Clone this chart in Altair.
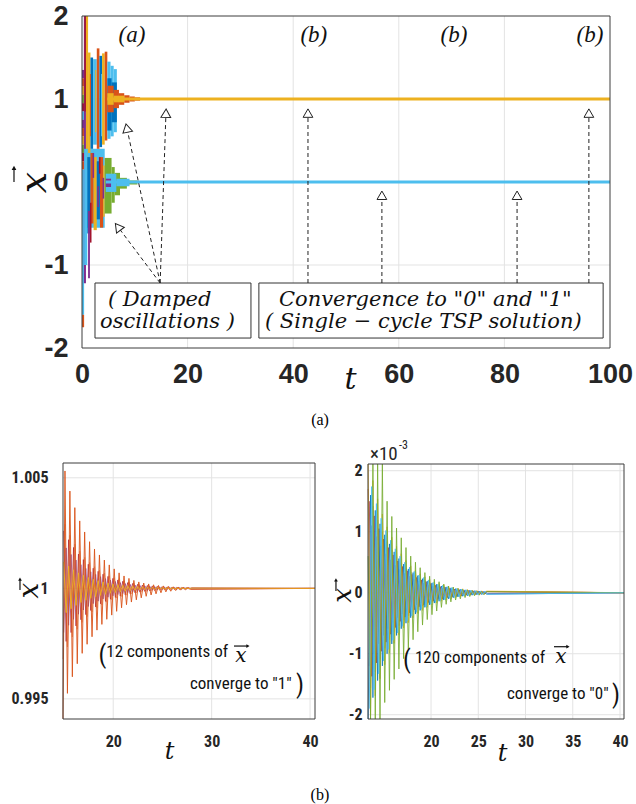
import math
import altair as alt
import pandas as pd

# ---------------- colours (MATLAB default order) ----------------
BLUE, ORANGE, YELLOW, PURPLE = "#0072BD", "#D95319", "#EDB120", "#7E2F8E"
GREEN, LBLUE, DRED, LORANGE = "#77AC30", "#4DBEEE", "#A2142F", "#E98A5F"

# ---------------- panel (a): ticks ----------------
top_xticks = [0, 20, 40, 60, 80, 100]
top_yticks = [-2, -1, 0, 1, 2]
top_grid_t = [20, 40, 60, 80]
top_grid_y = [-1, 0, 1]

# transient region: (t0, t1, low, high, colour)
band_early = [
    (0.0, 0.4, 1.25, 1.35, PURPLE), (0.0, 0.4, 1.15, 1.25, ORANGE),
    (0.0, 0.4, 1.05, 1.15, YELLOW), (0.0, 0.4, 0.95, 1.05, GREEN),
    (0.0, 0.4, 0.85, 0.95, DRED), (0.0, 0.4, 0.75, 0.85, LBLUE),
    (0.0, 0.4, 0.65, 0.75, PURPLE), (0.0, 0.4, 0.55, 0.65, ORANGE),
    (0.0, 0.4, 0.45, 0.55, YELLOW), (0.0, 0.4, 0.35, 0.45, GREEN),
    (0.0, 0.4, 0.25, 0.35, DRED), (0.0, 0.4, 0.15, 0.25, ORANGE),
    (0.0, 0.4, -1.60, 0.15, LBLUE), (0.0, 0.4, -1.75, -1.60, ORANGE),
    (0.35, 0.75, -1.22, 2.0, PURPLE), (0.45, 0.75, 0.85, 2.0, DRED),
    (0.75, 1.15, 0.15, 2.0, YELLOW),
]
band_lower = [
    (0.4, 1.0, -1.0, 0.40, LBLUE), (1.0, 4.3, -0.55, 0.40, LBLUE),
    (1.0, 1.6, -0.62, 0.30, BLUE), (1.6, 2.2, -0.50, 0.35, ORANGE),
    (2.2, 2.8, -0.58, 0.30, YELLOW), (2.8, 3.4, -0.45, 0.25, BLUE),
    (3.4, 4.0, -0.55, 0.30, ORANGE), (4.0, 4.3, -0.42, 0.20, YELLOW),
    (1.15, 1.5, -1.16, -0.35, PURPLE), (1.5, 1.8, -0.73, -0.25, DRED),
    (2.0, 2.3, 0.05, 0.35, PURPLE), (2.9, 3.2, -0.30, -0.05, PURPLE),
    (3.2, 3.5, 0.10, 0.30, DRED), (3.9, 4.2, -0.20, 0.05, PURPLE),
    (4.3, 5.6, -0.38, 0.29, GREEN), (5.6, 6.2, -0.25, 0.18, GREEN),
    (6.2, 7.2, -0.16, 0.11, GREEN), (7.2, 8.5, -0.08, 0.05, GREEN),
    (8.5, 10.5, -0.03, 0.018, GREEN), (10.5, 12.5, -0.012, 0.008, GREEN),
    (4.5, 6.5, -0.12, 0.10, LBLUE), (6.5, 9.0, -0.05, 0.04, LBLUE),
    (4.5, 5.5, -0.06, 0.04, PURPLE),
]
band_upper = [
    (1.15, 1.6, 0.35, 1.56, YELLOW), (1.6, 2.1, 0.40, 1.50, BLUE),
    (2.1, 2.8, 0.45, 1.48, LBLUE), (2.8, 3.3, 0.40, 1.61, ORANGE),
    (3.3, 3.8, 0.42, 1.52, BLUE), (3.8, 4.3, 0.45, 1.55, YELLOW),
    (4.3, 4.8, 0.50, 1.57, ORANGE), (4.8, 5.4, 0.52, 1.45, LBLUE),
    (5.4, 6.0, 0.55, 1.40, LBLUE), (6.0, 6.6, 0.60, 1.36, LBLUE),
    (4.8, 5.6, 0.62, 1.25, BLUE), (5.6, 6.6, 0.72, 1.20, BLUE),
    (4.8, 6.0, 0.84, 1.16, ORANGE), (6.0, 7.0, 0.89, 1.11, ORANGE),
    (7.0, 8.0, 0.93, 1.07, ORANGE), (8.0, 9.0, 0.955, 1.045, ORANGE),
    (9.0, 10.0, 0.97, 1.03, ORANGE), (10.0, 11.0, 0.98, 1.02, ORANGE),
    (11.0, 12.0, 0.988, 1.012, ORANGE), (12.0, 13.5, 0.994, 1.006, ORANGE),
    (4.8, 6.0, 0.93, 1.07, YELLOW), (6.0, 8.0, 0.96, 1.04, YELLOW),
    (1.5, 1.7, 0.55, 1.30, ORANGE), (2.5, 2.7, 0.60, 1.35, YELLOW),
    (3.6, 3.8, 0.55, 1.30, LBLUE),
]
# settled trajectories
settle_t0 = [4.5, 4.8]
settle_t1 = [100, 100]
settle_y = [0.0, 1.0]
settle_c = [LBLUE, YELLOW]

# annotation boxes (t0, t1, y0, y1)
box_t0 = [2.46, 33.5]
box_t1 = [32.0, 98.7]
box_y0 = [-1.88, -1.88]
box_y1 = [-1.217, -1.217]
box_text_t = [4.92, 3.41, 37.3, 34.66]
box_text_y = [-1.494, -1.759, -1.494, -1.759]
box_text = ["( Damped", "oscillations )", 'Convergence to "0" and "1"',
            "( Single \u2212 cycle TSP solution)"]

# dashed arrows: source on box edge, tip
arrow_src_t = [14.8, 14.8, 14.8, 42.8, 56.8, 82.4, 96.0]
arrow_src_y = [-1.217] * 7
arrow_tip_t = [8.5, 15.9, 6.8, 42.8, 56.8, 82.4, 96.0]
arrow_tip_y = [0.65, 0.83, -0.54, 0.83, -0.16, -0.16, 0.83]

part_t = [9.47, 43.9, 70.45, 96.2]
part_y = [1.687] * 4
part_text = ["(a)", "(b)", "(b)", "(b)"]

# ---------------- panel (b) left: 12 components -> 1 (deviation x 1e-3) -------
bl_xticks = [20, 30, 40]
bl_yticks = [0.995, 1.0, 1.005]
bl_grid_t = [20, 30, 40]
bl_t = [14.9, 15.1, 15.35, 15.6, 15.85, 16.1, 16.35, 16.6, 16.85, 17.1, 17.35, 17.6,
        17.85, 18.1, 18.35, 18.6, 18.85, 19.1, 19.35, 19.6, 19.85, 20.1, 20.35, 20.6,
        20.85, 21.1, 21.35, 21.6, 21.85, 22.1, 22.35, 22.6, 22.85, 23.1, 23.35, 23.6,
        23.85, 24.1, 24.35, 24.6, 24.85, 25.1, 25.35, 25.6, 25.85, 26.1, 26.35, 26.6,
        26.85, 27.1, 27.35, 27.6, 27.85]
bl_t2 = [14.97, 15.22, 15.47, 15.72, 15.97, 16.22, 16.47, 16.72, 16.97, 17.22, 17.47,
         17.72, 17.97, 18.22, 18.47, 18.72, 18.97, 19.22, 19.47, 19.72, 19.97, 20.22,
         20.47, 20.72, 20.97, 21.22, 21.47, 21.72, 21.97, 22.22, 22.47, 22.72, 22.97,
         23.22, 23.47, 23.72, 23.97, 24.22, 24.47, 24.72, 24.97, 25.22, 25.47, 25.72,
         25.97, 26.22, 26.47, 26.72, 26.97, 27.22, 27.47, 27.72, 27.97]
bl_orange = [-5.9, 5.31, -4.75, 4.40, -4.0, 3.65, -3.41, 3.05, -2.94, 2.55, -2.53, 2.11,
             -2.19, 1.78, -1.89, 1.51, -1.63, 1.28, -1.40, 1.06, -1.21, 0.88, -1.04, 0.70,
             -0.88, 0.56, -0.74, 0.45, -0.62, 0.36, -0.52, 0.29, -0.43, 0.24, -0.36, 0.20,
             -0.30, 0.16, -0.25, 0.13, -0.20, 0.11, -0.16, 0.09, -0.13, 0.07, -0.10, 0.06,
             -0.08, 0.05, -0.06, 0.04, -0.045]
bl_lorange = [-3.2, 2.9, -2.65, 2.4, -2.2, 2.0, -1.85, 1.68, -1.54, 1.4, -1.28, 1.17,
              -1.07, 0.98, -0.9, 0.82, -0.75, 0.69, -0.63, 0.57, -0.52, 0.48, -0.44, 0.4,
              -0.37, 0.34, -0.31, 0.28, -0.26, 0.23, -0.21, 0.2, -0.18, 0.16, -0.15, 0.14,
              -0.13, 0.12, -0.11, 0.1, -0.09, 0.08, -0.075, 0.068, -0.062, 0.057, -0.052,
              0.048, -0.044, 0.04, -0.037, 0.034, -0.031]
bl_dred = [2.6, -2.4, 2.2, -2.0, 1.85, -1.7, 1.55, -1.42, 1.3, -1.19, 1.09, -1.0, 0.91,
           -0.84, 0.77, -0.7, 0.64, -0.59, 0.54, -0.49, 0.45, -0.41, 0.38, -0.35, 0.32,
           -0.29, 0.26, -0.24, 0.22, -0.2, 0.18, -0.17, 0.15, -0.14, 0.13, -0.12, 0.11,
           -0.1, 0.09, -0.08, 0.075, -0.07, 0.063, -0.058, 0.053, -0.049, 0.045, -0.041,
           0.037, -0.034, 0.031, -0.029, 0.026]
bl_purple = [-2.0, 1.83, -1.67, 1.53, -1.4, 1.28, -1.17, 1.07, -0.98, 0.9, -0.82, 0.75,
             -0.69, 0.63, -0.58, 0.53, -0.48, 0.44, -0.4, 0.37, -0.34, 0.31, -0.28, 0.26,
             -0.24, 0.22, -0.2, 0.18, -0.17, 0.15, -0.14, 0.13, -0.12, 0.11, -0.1, 0.09,
             -0.082, 0.075, -0.069, 0.063, -0.058, 0.053, -0.048, 0.044, -0.04, 0.037,
             -0.034, 0.031, -0.028, 0.026, -0.024, 0.022, -0.02]
bl_yellow = [1.2, -1.1, 1.0, -0.92, 0.84, -0.77, 0.7, -0.64, 0.59, -0.54, 0.49, -0.45,
             0.41, -0.38, 0.35, -0.32, 0.29, -0.27, 0.24, -0.22, 0.2, -0.19, 0.17, -0.16,
             0.14, -0.13, 0.12, -0.11, 0.1, -0.09, 0.084, -0.077, 0.07, -0.064, 0.059,
             -0.054, 0.049, -0.045, 0.041, -0.037, 0.034, -0.031, 0.029, -0.026, 0.024,
             -0.022, 0.02, -0.018, 0.017, -0.015, 0.014, -0.013, 0.012]
bl_end_t = 40.5

# ---------------- panel (b) right: 120 components -> 0 (x 1e-3) ----------------
br_xticks = [20, 25, 30, 35, 40]
br_yticks = [-2, -1, 0, 1, 2]
br_grid_t = [20, 25, 30, 35, 40]
br_t = [13.35, 13.6, 13.85, 14.1, 14.35, 14.6, 14.85, 15.1, 15.35, 15.6, 15.85, 16.1,
        16.35, 16.6, 16.85, 17.1, 17.35, 17.6, 17.85, 18.1, 18.35, 18.6, 18.85, 19.1,
        19.35, 19.6, 19.85, 20.1, 20.35, 20.6, 20.85, 21.1, 21.35, 21.6, 21.85, 22.1,
        22.35, 22.6, 22.85, 23.1, 23.35, 23.6, 23.85, 24.1, 24.35, 24.6, 24.85, 25.1,
        25.35, 25.6, 25.85]
br_t2 = [13.47, 13.72, 13.97, 14.22, 14.47, 14.72, 14.97, 15.22, 15.47, 15.72, 15.97,
         16.22, 16.47, 16.72, 16.97, 17.22, 17.47, 17.72, 17.97, 18.22, 18.47, 18.72,
         18.97, 19.22, 19.47, 19.72, 19.97, 20.22, 20.47, 20.72, 20.97, 21.22, 21.47,
         21.72, 21.97, 22.22, 22.47, 22.72, 22.97, 23.22, 23.47, 23.72, 23.97, 24.22,
         24.47, 24.72, 24.97, 25.22, 25.47, 25.72, 25.97]
br_green = [0.6, -2.07, 2.11, -2.07, 2.11, -2.07, 2.11, -1.8, 1.5, -1.6, 1.25, -1.42,
            1.06, -1.25, 0.9, -1.08, 0.74, -0.92, 0.6, -0.77, 0.5, -0.64, 0.41, -0.53,
            0.33, -0.44, 0.27, -0.36, 0.22, -0.3, 0.18, -0.24, 0.14, -0.19, 0.11, -0.15,
            0.09, -0.12, 0.07, -0.1, 0.055, -0.08, 0.045, -0.063, 0.035, -0.05, 0.028,
            -0.04, 0.022, -0.032, 0.017]
br_yellow = [2.11, -2.01, 1.84, -1.69, 1.54, -1.41, 1.29, -1.18, 1.08, -0.99, 0.91, -0.83,
             0.76, -0.69, 0.64, -0.58, 0.53, -0.49, 0.44, -0.41, 0.37, -0.34, 0.31, -0.29,
             0.26, -0.24, 0.22, -0.2, 0.18, -0.17, 0.15, -0.14, 0.13, -0.12, 0.11, -0.1,
             0.09, -0.08, 0.075, -0.068, 0.064, -0.057, 0.053, -0.048, 0.044, -0.04,
             0.037, -0.033, 0.031, -0.029, 0.026]
br_lblue = [-1.9, 1.74, -1.59, 1.46, -1.33, 1.22, -1.12, 1.02, -0.93, 0.86, -0.78, 0.72,
            -0.66, 0.6, -0.55, 0.5, -0.46, 0.42, -0.38, 0.35, -0.32, 0.29, -0.27, 0.25,
            -0.23, 0.21, -0.19, 0.17, -0.16, 0.14, -0.13, 0.12, -0.11, 0.1, -0.093, 0.086,
            -0.078, 0.07, -0.065, 0.059, -0.055, 0.049, -0.046, 0.042, -0.038, 0.034,
            -0.032, 0.029, -0.027, 0.025, -0.023]
br_blue = [-2.07, 1.6, -1.72, 1.35, -1.44, 1.13, -1.2, 0.95, -1.0, 0.8, -0.84, 0.67, -0.7,
           0.56, -0.59, 0.47, -0.5, 0.39, -0.41, 0.33, -0.35, 0.28, -0.29, 0.23, -0.24,
           0.19, -0.2, 0.16, -0.17, 0.14, -0.14, 0.11, -0.12, 0.095, -0.1, 0.08, -0.083,
           0.067, -0.07, 0.056, -0.058, 0.047, -0.049, 0.04, -0.041, 0.033, -0.034, 0.028,
           -0.029, 0.023, -0.024]
br_dred = [1.5, -1.37, 1.26, -1.15, 1.05, -0.96, 0.88, -0.81, 0.74, -0.68, 0.62, -0.57,
           0.52, -0.47, 0.43, -0.4, 0.36, -0.33, 0.3, -0.28, 0.25, -0.23, 0.21, -0.2, 0.18,
           -0.16, 0.15, -0.14, 0.12, -0.11, 0.1, -0.1, 0.09, -0.08, 0.07, -0.07, 0.06,
           -0.06, 0.05, -0.05, 0.04, -0.04, 0.036, -0.033, 0.03, -0.027, 0.025, -0.023,
           0.021, -0.019, 0.018]
br_purple = [-1.2, 1.1, -1.0, 0.92, -0.84, 0.77, -0.7, 0.64, -0.59, 0.54, -0.49, 0.45,
             -0.41, 0.38, -0.35, 0.32, -0.29, 0.27, -0.24, 0.22, -0.2, 0.19, -0.17, 0.16,
             -0.14, 0.13, -0.12, 0.11, -0.1, 0.09, -0.084, 0.077, -0.07, 0.064, -0.059,
             0.054, -0.049, 0.045, -0.041, 0.037, -0.034, 0.031, -0.029, 0.026, -0.024,
             0.022, -0.02, 0.018, -0.017, 0.015, -0.014]
br_orange = [1.7, -1.56, 1.42, -1.3, 1.19, -1.09, 1.0, -0.91, 0.84, -0.77, 0.7, -0.64,
             0.59, -0.54, 0.49, -0.45, 0.41, -0.38, 0.34, -0.31, 0.29, -0.26, 0.24, -0.22,
             0.2, -0.19, 0.17, -0.15, 0.14, -0.13, 0.12, -0.11, 0.1, -0.09, 0.083, -0.077,
             0.07, -0.064, 0.058, -0.053, 0.049, -0.045, 0.041, -0.037, 0.034, -0.031,
             0.029, -0.026, 0.024, -0.022, 0.02]
br_end_t = 40.42

# ---------------- layout & style ----------------
W, H = 636, 804
TOP = dict(xd=[0, 100], xr=[82, 610], yd=[-2, 2], yr=[348, 16])
BL = dict(xd=[14.9, 40.5], xr=[63, 315], yd=[0.99409, 1.00567], yr=[719, 463])
BR = dict(xd=[13.33, 40.42], xr=[368, 624], yd=[-2.07, 2.11], yr=[719, 464])

SANS = "Liberation Sans, Arial, Helvetica, sans-serif"
NARROW = "Liberation Sans Narrow, Arial Narrow, Roboto Condensed, Liberation Sans, sans-serif"
SERIF = "DejaVu Serif, Liberation Serif, serif"
TIMES = "Liberation Serif, Times New Roman, serif"
AX = "#262626"
FRAME = "#3c3c3c"
GRID = "#e3e3e3"
MINUS = "(datum.value < 0 ? '-' : '') + abs(datum.value)"


def sc(p, k):
    return alt.Scale(domain=p[k + "d"], range=p[k + "r"], nice=False, zero=False)


def X(field, p, axis=None):
    return alt.X(field, type="quantitative", scale=sc(p, "x"), axis=axis)


def Y(field, p, axis=None):
    return alt.Y(field, type="quantitative", scale=sc(p, "y"), axis=axis)


def grid_layers(p, xs, ys):
    gv = pd.DataFrame({"g": xs, "a": p["yd"][0], "b": p["yd"][1]})
    gh = pd.DataFrame({"g": ys, "a": p["xd"][0], "b": p["xd"][1]})
    return [
        alt.Chart(gv).mark_rule(color=GRID, strokeWidth=1).encode(
            x=X("g", p), y=Y("a", p), y2="b"),
        alt.Chart(gh).mark_rule(color=GRID, strokeWidth=1).encode(
            y=Y("g", p), x=X("a", p), x2="b"),
    ]


def frame_layer(p, xaxis, yaxis):
    df = pd.DataFrame({"x0": [p["xd"][0]], "x1": [p["xd"][1]],
                       "y0": [p["yd"][0]], "y1": [p["yd"][1]]})
    return alt.Chart(df).mark_rect(fillOpacity=0, stroke=FRAME, strokeWidth=1).encode(
        x=X("x0", p, xaxis), x2="x1", y=Y("y0", p, yaxis), y2="y1")


def text_layer(p, xs, ys, texts, **mk):
    df = pd.DataFrame({"x": xs, "y": ys, "s": texts})
    return alt.Chart(df).mark_text(**mk).encode(x=X("x", p), y=Y("y", p), text="s:N")


def vec_arrow(p, t0, t1, y0, y1, shape, size=16):
    """small vector arrow drawn over an x (shaft + filled head)"""
    df = pd.DataFrame({"a": [t0], "b": [t1], "c": [y0], "d": [y1]})
    shaft = alt.Chart(df).mark_rule(color="#111", strokeWidth=1.2).encode(
        x=X("a", p), x2="b", y=Y("c", p), y2="d")
    head = alt.Chart(df).mark_point(shape=shape, filled=True, color="#111", size=size,
                                    opacity=1).encode(x=X("b", p), y=Y("d", p))
    return [shaft, head]


def line_layer(p, ts, vs, end_t, end_v, color, width=1.0, opacity=0.85, base=0.0, k=1.0):
    tt = list(ts[:len(vs)]) + [end_t]
    vv = [base + v * k for v in vs[:len(ts)]] + [end_v]
    df = pd.DataFrame({"t": tt, "v": vv})
    return alt.Chart(df).mark_line(color=color, strokeWidth=width, opacity=opacity).encode(
        x=X("t", p), y=Y("v", p))


def axes(p, xvals, yvals, xpad, ypad, lsize, lfont, tsize_x, tsize_y,
         tx_x, ty_x, tx_y, ty_y):
    common = dict(labelFont=lfont, labelFontSize=lsize, labelFontWeight="bold",
                  labelColor=AX, labelFlush=False, labelOverlap=False, ticks=False,
                  domain=False, grid=False, titleColor="#111", titleFont=SERIF,
                  titleFontStyle="italic", titleFontWeight="normal",
                  titleBaseline="alphabetic", titleAlign="center")
    xa = alt.Axis(orient="bottom", offset=p["yr"][0] - H, values=xvals,
                  labelPadding=xpad, title="t", titleFontSize=tsize_x,
                  titleX=tx_x, titleY=ty_x, **common)
    ya = alt.Axis(orient="left", offset=-p["xr"][0], values=yvals, labelExpr=MINUS,
                  labelPadding=ypad, title="x", titleFontSize=tsize_y, titleAngle=270,
                  titleX=tx_y, titleY=ty_y, **common)
    return xa, ya


layers = []

# ================= panel (a) =================
layers += grid_layers(TOP, top_grid_t, top_grid_y)
bands = pd.DataFrame(band_early + band_lower + band_upper,
                     columns=["t0", "t1", "lo", "hi", "c"])
bands["o"] = range(len(bands))
layers.append(alt.Chart(bands).mark_rect(strokeWidth=0).encode(
    x=X("t0", TOP), x2="t1", y=Y("lo", TOP), y2="hi",
    color=alt.Color("c:N", scale=None), order="o:Q"))
settle = pd.DataFrame({"t0": settle_t0, "t1": settle_t1, "y": settle_y, "c": settle_c})
layers.append(alt.Chart(settle).mark_rule(strokeWidth=3).encode(
    x=X("t0", TOP), x2="t1", y=Y("y", TOP), color=alt.Color("c:N", scale=None)))
xa, ya = axes(TOP, top_xticks, top_yticks, 13, 14, 27, SANS, 30, 38,
              350, 40, -37, 182)
layers.append(frame_layer(TOP, xa, ya))
# vector arrow of the rotated y title
layers += vec_arrow(TOP, -12.88, -12.88, 0.0, 0.17, "triangle-up", 22)

boxes = pd.DataFrame({"t0": box_t0, "t1": box_t1, "y0": box_y0, "y1": box_y1})
layers.append(alt.Chart(boxes).mark_rect(fill="white", stroke="#333", strokeWidth=1).encode(
    x=X("t0", TOP), x2="t1", y=Y("y0", TOP), y2="y1"))

KX = (TOP["xr"][1] - TOP["xr"][0]) / (TOP["xd"][1] - TOP["xd"][0])
KY = (TOP["yr"][0] - TOP["yr"][1]) / (TOP["yd"][1] - TOP["yd"][0])
arr = []
for ts, ys, tt, yt in zip(arrow_src_t, arrow_src_y, arrow_tip_t, arrow_tip_y):
    dxp, dyp = (tt - ts) * KX, -(yt - ys) * KY
    L = math.hypot(dxp, dyp)
    ux, uy = dxp / L, dyp / L
    ang = math.degrees(math.atan2(ux, -uy)) % 360
    arr.append({"ts": ts, "ys": ys, "tt": tt, "yt": yt, "ang": ang})
arr = pd.DataFrame(arr)
layers.append(alt.Chart(arr).mark_rule(color="#222", strokeWidth=1, strokeDash=[4, 3]).encode(
    x=X("ts", TOP), y=Y("ys", TOP), x2="tt", y2="yt"))
layers.append(alt.Chart(arr).mark_point(shape="triangle-up", filled=True, fill="white",
                                         stroke="#222", strokeWidth=1, size=95,
                                         opacity=1).encode(
    x=X("tt", TOP), y=Y("yt", TOP), angle=alt.Angle("ang:Q", scale=None)))

layers.append(text_layer(TOP, box_text_t, box_text_y, box_text, font=SERIF,
                         fontStyle="italic", fontSize=21, align="left",
                         baseline="alphabetic", color="#111"))
layers.append(text_layer(TOP, part_t, part_y, part_text, font=TIMES, fontStyle="italic",
                         fontSize=23, align="center", baseline="alphabetic", color="#111"))
layers.append(text_layer(TOP, [45.08], [-2.928], ["(a)"], font=TIMES, fontSize=16,
                         align="center", baseline="alphabetic", color="#000"))

# ================= panel (b) left =================
layers += grid_layers(BL, bl_grid_t, bl_yticks)
for ts, vs, col, op in [(bl_t, bl_lorange, LORANGE, 0.7), (bl_t2, bl_purple, PURPLE, 0.7),
                        (bl_t2, bl_dred, DRED, 0.7), (bl_t, bl_orange, ORANGE, 0.9),
                        (bl_t2, bl_yellow, YELLOW, 0.9)]:
    layers.append(line_layer(BL, ts, vs, bl_end_t, 1.0, col, opacity=op,
                             base=1.0, k=0.001))
xa, ya = axes(BL, bl_xticks, bl_yticks, 14, 15, 16, NARROW, 24, 28,
              169, 39, -26, 590)
layers.append(frame_layer(BL, xa, ya))
layers += vec_arrow(BL, 10.53, 10.53, 0.99993, 1.00042, "triangle-up", 14)
layers.append(text_layer(BL, [18.5, 38.57], [0.99662, 0.99528], ["(", ")"], font=NARROW,
                         fontSize=25, align="left", baseline="alphabetic", color="#111"))
layers.append(text_layer(BL, [19.3, 27.8], [0.99689, 0.99544],
                         ["12 components of", 'converge to "1"'], font=NARROW,
                         fontSize=17, align="left", baseline="alphabetic", color="#111"))
layers.append(text_layer(BL, [32.98], [0.99667], ["x"], font=SERIF, fontStyle="italic",
                         fontSize=20, align="center", baseline="alphabetic", color="#111"))
layers += vec_arrow(BL, 32.27, 33.69, 0.99739, 0.99739, "triangle-right", 14)
layers.append(text_layer(BL, [41.0], [0.990424], ["(b)"], font=TIMES, fontSize=16,
                         align="center", baseline="alphabetic", color="#000"))

# ================= panel (b) right =================
layers += grid_layers(BR, br_grid_t, br_yticks)
for ts, vs, col, op in [(br_t, br_orange, ORANGE, 0.75), (br_t2, br_dred, DRED, 0.75),
                        (br_t2, br_purple, PURPLE, 0.75), (br_t, br_blue, BLUE, 0.75),
                        (br_t, br_yellow, YELLOW, 0.8), (br_t, br_green, GREEN, 0.85),
                        (br_t2, br_lblue, LBLUE, 0.85)]:
    layers.append(line_layer(BR, ts, vs, br_end_t, 0.0, col, opacity=op))
xa, ya = axes(BR, br_xticks, br_yticks, 14, 6, 16, NARROW, 24, 26,
              502, 41, -18, 595)
layers.append(frame_layer(BR, xa, ya))
layers += vec_arrow(BR, 9.94, 9.94, 0.03, 0.21, "triangle-up", 14)
layers.append(text_layer(BR, [17.03, 39.15], [-1.23, -1.80], ["(", ")"], font=NARROW,
                         fontSize=25, align="left", baseline="alphabetic", color="#111"))
layers.append(text_layer(BR, [18.3, 28.04], [-1.16, -1.74],
                         ["120  components of", 'converge to "0"'], font=NARROW,
                         fontSize=17, align="left", baseline="alphabetic", color="#111"))
layers.append(text_layer(BR, [33.75], [-1.148], ["x"], font=SERIF, fontStyle="italic",
                         fontSize=20, align="center", baseline="alphabetic", color="#111"))
layers += vec_arrow(BR, 33.01, 34.49, -0.885, -0.885, "triangle-right", 14)
layers.append(text_layer(BR, [13.54], [2.18], ["\u00d710"], font=NARROW, fontSize=19,
                         align="left", baseline="alphabetic", color=AX))
layers.append(text_layer(BR, [16.6], [2.36], ["-3"], font=NARROW, fontSize=12,
                         align="left", baseline="alphabetic", color=AX))

chart = alt.layer(*layers).resolve_scale(
    x="independent", y="independent"
).resolve_axis(
    x="independent", y="independent"
).properties(
    width=W, height=H, padding=0, background="white",
    autosize=alt.AutoSizeParams(type="none"),
).configure_view(strokeWidth=0)

chart.save("out.html", embed_options={"renderer": "svg", "actions": False})
